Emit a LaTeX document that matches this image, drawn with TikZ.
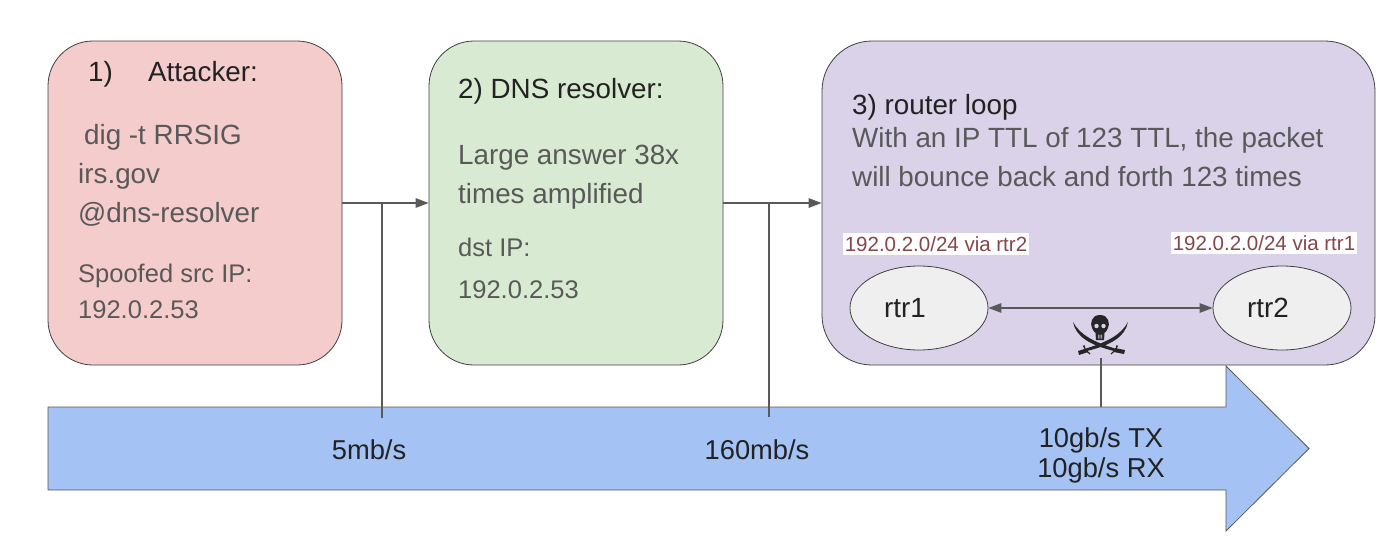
\documentclass[tikz,border=0pt]{standalone}
\usepackage{fontspec}
\setmainfont{Liberation Sans}
\usetikzlibrary{arrows.meta,calc,shapes.geometric}
\definecolor{linec}{HTML}{595959}
\definecolor{txtc}{HTML}{222222}
\definecolor{grayt}{HTML}{595959}
\definecolor{redb}{HTML}{F4CCCC}
\definecolor{greenb}{HTML}{D9EAD3}
\definecolor{purpb}{HTML}{D9D2E9}
\definecolor{blueb}{HTML}{A4C2F4}
\definecolor{ellb}{HTML}{EFEFEF}
\definecolor{routec}{HTML}{85474B}
\tikzset{
  panel/.style={draw=black!75,line width=0.8pt,rounded corners=#1},
  conn/.style={draw=linec,line width=1.3pt},
  arrowconn/.style={conn,-{Triangle[length=13pt,width=9.5pt]}},
  lbl/.style={anchor=base west,inner sep=0pt,font=\fontsize{27.8}{27.8}\selectfont,text=txtc},
  body/.style={anchor=base west,inner sep=0pt,font=\fontsize{27.8}{27.8}\selectfont,text=grayt},
  small/.style={anchor=base west,inner sep=0pt,font=\fontsize{25.5}{25.5}\selectfont,text=grayt},
  route/.style={fill=white,text=routec,inner xsep=2pt,inner ysep=3pt,font=\fontsize{20.5}{20.5}\selectfont},
  rtr/.style={draw=black!75,line width=0.8pt,fill=ellb,ellipse,minimum width=138pt,minimum height=84pt,inner sep=0pt,font=\fontsize{27.8}{27.8}\selectfont,text=txtc},
  rate/.style={inner sep=0pt,align=center,font=\fontsize{27.3}{30}\selectfont,text=txtc},
  sabre/.style={fill=black!85}
}
\begin{document}
\begin{tikzpicture}[x=1pt,y=-1pt]
\useasboundingbox (0,0) rectangle (1400,541);
% big arrow
\draw[draw=linec,line width=0.8pt,fill=blueb] (48,407) -- (1226,407) -- (1226,366) -- (1309,448.5) -- (1226,531) -- (1226,490) -- (48,490) -- cycle;
% boxes
\node[panel=45pt,fill=redb,minimum width=294pt,minimum height=324pt,inner sep=0pt] (attacker) at (195,203) {};
\node[panel=45pt,fill=greenb,minimum width=294pt,minimum height=324pt,inner sep=0pt] (resolver) at (576,203) {};
\node[panel=50pt,fill=purpb,minimum width=553pt,minimum height=324pt,inner sep=0pt] (loop) at (1098.5,203) {};
% texts box 1
\node[lbl] (t1a) at (88,81) {1)};
\node[lbl] (t1b) at (148,81) {Attacker:};
\node[body] (t1c) at (84,144) {dig -t RRSIG};
\node[body] (t1d) at (78,183) {irs.gov};
\node[body] (t1e) at (78,222) {@dns-resolver};
\node[small] (t1f) at (78,282) {Spoofed src IP:};
\node[small] (t1g) at (78,318) {192.0.2.53};
% texts box 2
\node[lbl] (t2a) at (458,98) {2) DNS resolver:};
\node[body] (t2b) at (458,164) {Large answer 38x};
\node[body] (t2c) at (458,203) {times amplified};
\node[small] (t2d) at (458,256) {dst IP:};
\node[small] (t2e) at (458,298) {192.0.2.53};
% texts box 3
\node[lbl] (t3a) at (852,114) {3) router loop};
\node[body] (t3b) at (852,147) {With an IP TTL of 123 TTL, the packet};
\node[body] (t3c) at (852,186) {will bounce back and forth 123 times};
% routers
\node[rtr] (r1) at (919,308) {\hspace{-28pt}rtr1};
\node[rtr] (r2) at (1282,308) {\hspace{-28pt}rtr2};
\node[route] (rl) at (936,244) {192.0.2.0/24 via rtr2};
\node[route] (rr) at (1264,243) {192.0.2.0/24 via rtr1};
\draw[conn,{Triangle[length=13pt,width=9.5pt]}-{Triangle[length=13pt,width=9.5pt]}] (r1) -- (r2);
% connectors
\draw[arrowconn] (attacker.east) -- (resolver.west);
\draw[arrowconn] (resolver.east) -- (resolver.east -| loop.west);
\coordinate (c1) at (382,204);
\coordinate (c1b) at (382,418);
\coordinate (c2) at (769,204);
\coordinate (c2b) at (769,417);
\coordinate (c3) at (1101,358);
\coordinate (c3b) at (1101,407);
\draw[conn] (c1) -- (c1b);
\draw[conn] (c2) -- (c2b);
\draw[conn] (c3) -- (c3b);
% rates
\node[rate] (rate1) at (369,450) {5mb/s};
\node[rate] (rate2) at (757,450) {160mb/s};
\node[rate] (rate3) at (1101,455) {10gb/s TX\\10gb/s RX};
% jolly roger
\begin{scope}[shift={(1100,333)}]
\fill[sabre] (0,-18) .. controls (-9,-18) and (-10,-9) .. (-8,-5) .. controls (-7,-3) and (-6,-1) .. (-4.5,0) -- (-4,7) -- (4,7) -- (4.5,0) .. controls (6,-1) and (7,-3) .. (8,-5) .. controls (10,-9) and (9,-18) .. (0,-18) -- cycle;
\fill[purpb] (-3.5,-7) circle (2.2) (3.5,-7) circle (2.2);
\fill[purpb] (-2,1.5) rectangle (-1.3,5.5) (-0.3,1.5) rectangle (0.3,5.5) (1.3,1.5) rectangle (2,5.5);
% sabres
\fill[sabre] (-27,-11) .. controls (-24,4) and (-10,12) .. (14,18) -- (15,15.5) .. controls (-6,9) and (-20,2) .. (-27,-11) -- cycle;
\fill[sabre] (28,-11) .. controls (25,4) and (11,12) .. (-13,18) -- (-14,15.5) .. controls (7,9) and (21,2) .. (28,-11) -- cycle;
% hilts
\fill[sabre] (-22,18) -- (-14,15.5) -- (-12,19) -- (-21,22) -- cycle;
\fill[sabre] (25,17) -- (15,15) -- (14,19) -- (24,21) -- cycle;
\draw[sabre,draw=black!85,line width=1.2pt,fill=none] (-15,13) .. controls (-19,11) and (-13,19) .. (-10,21);
\draw[sabre,draw=black!85,line width=1.2pt,fill=none] (16,13) .. controls (20,11) and (14,19) .. (11,21);
\end{scope}
\end{tikzpicture}
\end{document}
